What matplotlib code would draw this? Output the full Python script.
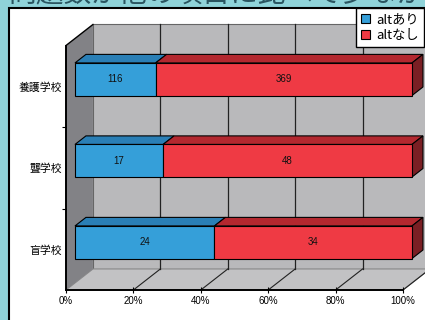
import matplotlib
matplotlib.use("Agg")
import matplotlib.pyplot as plt
from matplotlib.patches import Polygon, Rectangle, Patch

plt.rcParams['font.family'] = ['Noto Sans CJK JP', 'DejaVu Sans']

# ---- data ----
categories = ['盲学校', '聾学校', '養護学校']
alt_ari = [24, 17, 116]
alt_nashi = [34, 48, 369]
series_names = ['altあり', 'altなし']
x_ticks = [0, 20, 40, 60, 80, 100]
x_tick_labels = ['0%', '20%', '40%', '60%', '80%', '100%']
title = '問題数が他の項目に比べて少なかった'

# ---- style ----
W, H = 425, 320
TEAL = '#8fd3d9'
BLUE_F, BLUE_T = '#359fd9', '#2a7fb6'
RED_F, RED_T, RED_S = '#ef3a44', '#b3282f', '#7a1f24'
WALL, SIDE, FLOOR = '#b9b9bb', '#828286', '#c2c2c4'
DX, DY = 8.0, 0.258          # full depth offset in data units
D0, D1 = 0.333, 0.74         # bar depth range
BH = 0.40                    # bar height

fig = plt.figure(figsize=(W / 100, H / 100), dpi=100)
fig.patch.set_facecolor(TEAL)

# title (cut off at top)
fig.text(8 / W, 1 - 9 / H, title, fontsize=20, color='#2a5560',
         ha='left', va='bottom', zorder=-2)

# white panel
fig.patches.append(Rectangle((9 / W, -0.1), 1.2, 1 - 8 / H + 0.1,
                             transform=fig.transFigure, facecolor='white',
                             edgecolor='black', lw=1.5, zorder=-1))

ax = fig.add_axes([66 / W, 30 / H, 337 / W, 244.5 / H])
ax.set_zorder(1)
ax.set_xlim(0, 100)
ax.set_ylim(-0.5, 2.5)
ax.patch.set_visible(False)
for s in ax.spines.values():
    s.set_visible(False)

n = len(categories)
y0, y1 = -0.5, n - 0.5


def P(p, c, d):
    return (p + d * DX, c + d * DY)


def poly(pts, fc, ec='none', lw=0.8, z=1):
    ax.add_patch(Polygon(pts, closed=True, facecolor=fc, edgecolor=ec,
                         lw=lw, zorder=z, clip_on=False))


# back wall
poly([P(0, y0, 1), P(100, y0, 1), P(100, y1, 1), P(0, y1, 1)], WALL,
     ec='#666666', lw=0.8, z=1)
# floor
poly([P(0, y0, 0), P(100, y0, 0), P(100, y0, 1), P(0, y0, 1)], FLOOR,
     ec='#8a8a8a', lw=0.8, z=1)
# left wall
poly([P(0, y0, 0), P(0, y0, 1), P(0, y1, 1), P(0, y1, 0)], SIDE,
     ec='none', z=1)

# gridlines on back wall and floor
for p in x_ticks[1:]:
    a, b = P(p, y0, 1), P(p, y1, 1)
    ax.plot([a[0], b[0]], [a[1], b[1]], color='#222222', lw=0.9, zorder=2,
            clip_on=False)
    a, b = P(p, y0, 0), P(p, y0, 1)
    ax.plot([a[0], b[0]], [a[1], b[1]], color='#222222', lw=0.8, zorder=2,
            clip_on=False)

# left wall edges
a, b = P(0, y1, 0), P(0, y1, 1)
ax.plot([a[0], b[0]], [a[1], b[1]], color='black', lw=1.0, zorder=3, clip_on=False)
ax.plot([0, 0], [y0, y1], color='black', lw=1.4, zorder=3, clip_on=False)
ax.plot([0, 100], [y0, y0], color='black', lw=1.4, zorder=3, clip_on=False)

# bars
for i, c in enumerate(categories):
    tot = alt_ari[i] + alt_nashi[i]
    pa = alt_ari[i] / tot * 100
    segs = [(0, pa, BLUE_F, BLUE_T, alt_ari[i]),
            (pa, 100, RED_F, RED_T, alt_nashi[i])]
    lo, hi = i - BH / 2, i + BH / 2
    for (l, r, fc, tc, v) in segs:
        # top face
        poly([P(l, hi, D0), P(r, hi, D0), P(r, hi, D1), P(l, hi, D1)], tc,
             ec='black', lw=0.8, z=4)
        # front face
        poly([P(l, lo, D0), P(r, lo, D0), P(r, hi, D0), P(l, hi, D0)], fc,
             ec='black', lw=0.8, z=5)
        cx, cy = P((l + r) / 2, i, D0)
        ax.text(cx, cy, str(v), ha='center', va='center', fontsize=7,
                family='Liberation Sans', color='#111111', zorder=6)
    # right side face
    poly([P(100, lo, D0), P(100, lo, D1), P(100, hi, D1), P(100, hi, D0)],
         RED_S, ec='black', lw=0.8, z=4)

# ticks
ax.set_xticks(x_ticks)
ax.set_xticklabels(x_tick_labels, family='Liberation Sans', fontsize=7)
ax.tick_params(axis='x', direction='inout', length=4, width=0.8, pad=2)
ax.set_yticks(range(n))
ax.set_yticklabels(categories, fontsize=7.8)
ax.tick_params(axis='y', length=0, pad=3)
ax.set_yticks([k + 0.5 for k in range(n - 1)], minor=True)
ax.tick_params(axis='y', which='minor', direction='out', length=3, width=0.8)

# legend
handles = [Patch(facecolor=BLUE_F, edgecolor='black', lw=0.8),
           Patch(facecolor=RED_F, edgecolor='black', lw=0.8)]
leg = fig.legend(handles, series_names, loc='upper right',
                 bbox_to_anchor=(424 / W, 1 - 8 / H), fontsize=9.5,
                 frameon=True, fancybox=False, framealpha=1,
                 handlelength=0.7, handleheight=0.7, handletextpad=0.45,
                 borderpad=0.4, labelspacing=0.2, borderaxespad=0)
leg.get_frame().set_edgecolor('black')
leg.get_frame().set_linewidth(1.0)
leg.set_zorder(10)

fig.savefig('out.png', dpi=100, facecolor=TEAL)
